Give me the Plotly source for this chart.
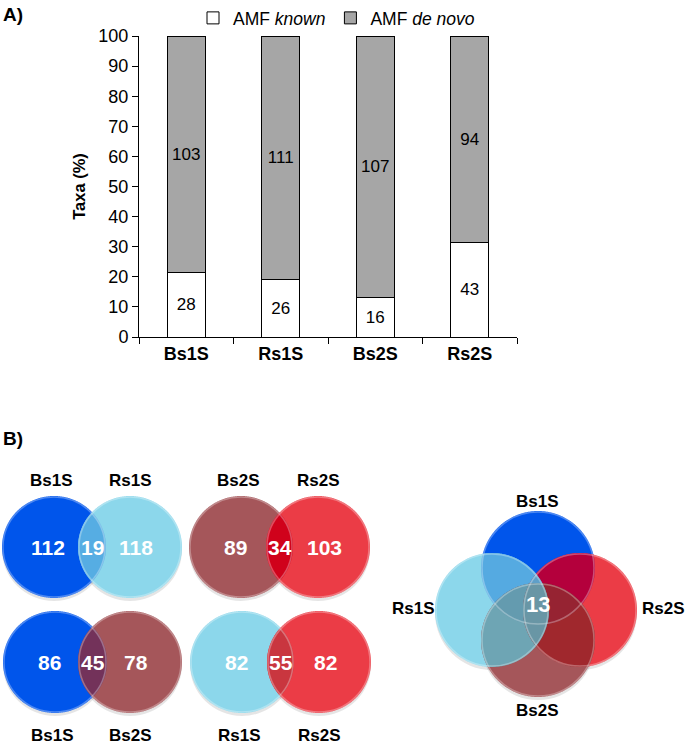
import numpy as np
from itertools import combinations
import plotly.graph_objects as go

# ---------------- data ----------------
categories = ["Bs1S", "Rs1S", "Bs2S", "Rs2S"]
amf_known = [28, 26, 16, 43]
amf_denovo = [103, 111, 107, 94]
y_ticks = [0, 10, 20, 30, 40, 50, 60, 70, 80, 90, 100]

pair_sets = [("Bs1S", "Rs1S"), ("Bs2S", "Rs2S"), ("Bs1S", "Bs2S"), ("Rs1S", "Rs2S")]
pair_left_only = [112, 89, 86, 82]
pair_shared = [19, 34, 45, 55]
pair_right_only = [118, 103, 78, 82]
core_all_four = 13

# ---------------- styles ----------------
FONT = "Liberation Sans, Arial, sans-serif"
sample_colors = {"Bs1S": "#0055EB", "Rs1S": "#8CD7EB", "Bs2S": "#A5565A", "Rs2S": "#EB3C46"}
pair_overlap_colors = ["#56ADE3", "#D0021B", "#73325A", "#C9363F"]
four_colors = {
    ("Bs1S", "Rs1S"): "#55AAE1", ("Bs1S", "Rs2S"): "#B4003C", ("Bs1S", "Bs2S"): "#7A2E5E",
    ("Rs1S", "Rs2S"): "#6A9FCB", ("Rs1S", "Bs2S"): "#6EA5B4", ("Rs2S", "Bs2S"): "#A0282D",
    ("Bs1S", "Rs1S", "Rs2S"): "#5F9FC8", ("Bs1S", "Rs1S", "Bs2S"): "#649BAF",
    ("Bs1S", "Rs2S", "Bs2S"): "#962332", ("Rs1S", "Rs2S", "Bs2S"): "#6996A5",
    ("Bs1S", "Rs1S", "Rs2S", "Bs2S"): "#6996A5",
}

W, H = 685, 744

tot = [k + d for k, d in zip(amf_known, amf_denovo)]
pct_known = [k / t * 100 for k, t in zip(amf_known, tot)]
pct_denovo = [d / t * 100 for d, t in zip(amf_denovo, tot)]

fig = go.Figure()
fig.add_trace(go.Bar(
    x=categories, y=pct_known, name="AMF <i>known</i>",
    marker=dict(color="white", line=dict(color="black", width=1)),
    text=[str(v) for v in amf_known], textposition="inside", insidetextanchor="middle",
    textangle=0, constraintext="none",
    textfont=dict(color="black", size=17, family=FONT), width=0.4, hoverinfo="skip"))
fig.add_trace(go.Bar(
    x=categories, y=pct_denovo, name="AMF <i>de novo</i>",
    marker=dict(color="#A6A6A6", line=dict(color="black", width=1)),
    text=[str(v) for v in amf_denovo], textposition="inside", insidetextanchor="middle",
    textangle=0, constraintext="none",
    textfont=dict(color="black", size=17, family=FONT), width=0.4, hoverinfo="skip"))

# invisible trace to create the venn pixel-space subplot
fig.add_trace(go.Scatter(x=[0], y=[0], xaxis="x2", yaxis="y2", mode="markers",
                         marker=dict(opacity=0), showlegend=False, hoverinfo="skip"))

# ---------------- venn geometry (pixel space) ----------------
def ell_points(c, n=720):
    cx, cy, rx, ry = c
    t = np.linspace(0, 2 * np.pi, n, endpoint=False)
    return np.column_stack([cx + rx * np.cos(t), cy + ry * np.sin(t)])

def inside(p, c):
    cx, cy, rx, ry = c
    return ((p[:, 0] - cx) / rx) ** 2 + ((p[:, 1] - cy) / ry) ** 2 <= 1.0 + 1e-9

def region_path(circs):
    pts = []
    for i, c in enumerate(circs):
        p = ell_points(c)
        m = np.ones(len(p), bool)
        for j, o in enumerate(circs):
            if j != i:
                m &= inside(p, o)
        pts.append(p[m])
    pts = np.vstack(pts)
    if len(pts) < 3:
        return None
    ctr = pts.mean(axis=0)
    ang = np.arctan2(pts[:, 1] - ctr[1], pts[:, 0] - ctr[0])
    pts = pts[np.argsort(ang)]
    return "M " + " L ".join(f"{x:.2f},{y:.2f}" for x, y in pts) + " Z"

shapes = []

def add_region(circs, color):
    path = region_path(circs)
    if path:
        shapes.append(dict(type="path", path=path, xref="x2", yref="y2",
                           fillcolor=color, line=dict(width=0), layer="above"))

def add_shadow(c):
    cx, cy, rx, ry = c
    shapes.append(dict(type="circle", xref="x2", yref="y2", x0=cx - rx, x1=cx + rx,
                       y0=cy - ry + 3, y1=cy + ry + 3, fillcolor="rgba(0,0,0,0.10)",
                       line=dict(width=0), layer="above"))

def add_rim(c):
    cx, cy, rx, ry = c
    shapes.append(dict(type="circle", xref="x2", yref="y2", x0=cx - rx + 1, x1=cx + rx - 1,
                       y0=cy - ry + 1, y1=cy + ry - 1, fillcolor="rgba(0,0,0,0)",
                       line=dict(width=1.5, color="rgba(255,255,255,0.30)"), layer="above"))

annotations = []

def label(x, y, txt, size=17, color="black"):
    annotations.append(dict(x=x, y=y, xref="x2", yref="y2", text=f"<b>{txt}</b>",
                            xanchor="center", yanchor="middle",
                            showarrow=False, font=dict(size=size, color=color, family=FONT)))

# two-set diagrams: (left center x, right center x, center y, label y)
pair_layout = [(54, 130, 547, 480), (241, 318, 547, 480), (55, 130, 662, 735), (242, 319, 662, 735)]
RX, RY = 52, 51
for k, (a, b) in enumerate(pair_sets):
    xl, xr, yc, ly = pair_layout[k]
    ca, cb = (xl, yc, RX, RY), (xr, yc, RX, RY)
    add_shadow(ca); add_shadow(cb)
    add_region([ca], sample_colors[a])
    add_region([cb], sample_colors[b])
    add_region([ca, cb], pair_overlap_colors[k])
    add_rim(ca); add_rim(cb)
    label(xl - 6, yc, pair_left_only[k], 21, "white")
    label((xl + xr) / 2, yc, pair_shared[k], 21, "white")
    label(xr + 6, yc, pair_right_only[k], 21, "white")
    label(xl - 3, ly, a)
    label(xr, ly, b)

# four-set diagram
R4 = 57
four_layout = {"Bs1S": (538, 568), "Rs1S": (492, 610), "Rs2S": (580, 610), "Bs2S": (538, 640)}
four_order = ["Bs1S", "Rs1S", "Rs2S", "Bs2S"]
circ4 = {n: (x, y, R4, R4) for n, (x, y) in four_layout.items()}
for n in four_order:
    add_shadow(circ4[n])
for n in four_order:
    add_region([circ4[n]], sample_colors[n])
for size in (2, 3, 4):
    for combo in combinations(four_order, size):
        add_region([circ4[n] for n in combo], four_colors[combo])
for n in ["Bs1S", "Rs2S", "Bs2S", "Rs1S"]:
    add_rim(circ4[n])
label(538, 604, core_all_four, 22, "white")
label(537, 501, "Bs1S")
label(413, 608, "Rs1S")
label(663, 608, "Rs2S")
label(537, 710, "Bs2S")

# panel letters
annotations.append(dict(x=0.002, y=1 - 15 / H, xref="paper", yref="paper", xanchor="left",
                        yanchor="middle", text="<b>A)</b>", showarrow=False,
                        font=dict(size=19, family=FONT, color="black")))
annotations.append(dict(x=0.002, y=1 - 438 / H, xref="paper", yref="paper", xanchor="left",
                        yanchor="middle", text="<b>B)</b>", showarrow=False,
                        font=dict(size=19, family=FONT, color="black")))

fig.update_layout(
    width=W, height=H, margin=dict(l=0, r=0, t=0, b=0),
    paper_bgcolor="white", plot_bgcolor="rgba(0,0,0,0)",
    barmode="stack",
    font=dict(family=FONT, color="black"),
    legend=dict(orientation="h", x=193 / W, xanchor="left", y=1.0, yanchor="top",
                font=dict(size=17.5, family=FONT), traceorder="normal",
                bgcolor="rgba(0,0,0,0)"),
    xaxis=dict(domain=[139 / W, 517 / W], type="category", range=[-0.5, 3.5],
               showline=True, linecolor="black", linewidth=1, ticks="outside",
               tickson="boundaries", ticklen=6, tickcolor="black", showgrid=False,
               tickfont=dict(size=18, family=FONT, weight="bold"), automargin=False,
               anchor="y", fixedrange=True),
    yaxis=dict(domain=[1 - 337 / H, 1 - 36 / H], range=[0, 100], tickvals=y_ticks,
               showline=True, linecolor="black", linewidth=1, ticks="outside",
               ticklen=6, tickcolor="black", showgrid=False, zeroline=False,
               tickfont=dict(size=18, family=FONT), automargin=False,
               title=dict(text="<b>Taxa (%)</b>", font=dict(size=16.5, family=FONT), standoff=8),
               anchor="x", fixedrange=True),
    xaxis2=dict(domain=[0, 1], range=[0, W], visible=False, anchor="y2", fixedrange=True),
    yaxis2=dict(domain=[0, 1], range=[H, 0], visible=False, anchor="x2", fixedrange=True),
    shapes=shapes, annotations=annotations,
)

fig.write_html("out.html", config={"displayModeBar": False},
               post_script="document.body.style.margin='0px';")
